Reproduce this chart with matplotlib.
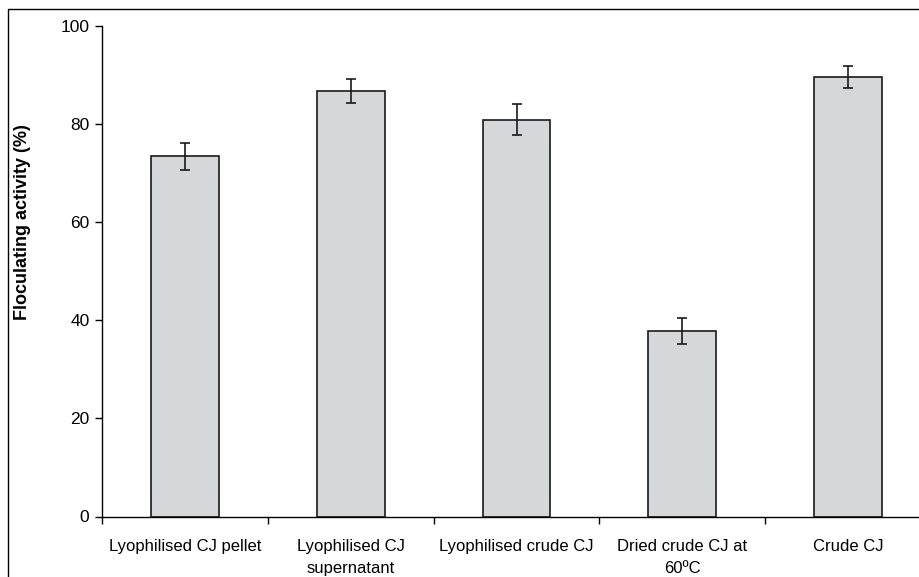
import matplotlib.pyplot as plt
from matplotlib.patches import Rectangle

plt.rcParams['font.family'] = ['Liberation Sans', 'DejaVu Sans']

# sample treatments and their flocculating activity
labels = ['Lyophilised CJ pellet', 'Lyophilised CJ\nsupernatant', 'Lyophilised crude CJ',
          'Dried crude CJ at\n60ºC', 'Crude CJ']
activity = [73.4, 86.7, 80.9, 37.8, 89.6]
err = [2.7, 2.4, 3.2, 2.6, 2.3]

fig = plt.figure(figsize=(9.2, 5.77), dpi=100)

# outer chart frame (runs off the right and bottom edges)
fig.patches.append(Rectangle((8 / 920, -0.05), 1.1, 1 - 9 / 577 + 0.05,
                             transform=fig.transFigure, fill=False,
                             edgecolor='black', linewidth=1.0))

ax = fig.add_axes([102 / 920, 1 - 516.5 / 577, 829 / 920, 490.5 / 577])
x = range(len(labels))
ax.bar(x, activity, width=0.41, color='#d6d7d9', edgecolor='#1a1a1a', linewidth=1.2,
       yerr=err, capsize=3.6, error_kw=dict(ecolor='#1a1a1a', elinewidth=1.2, capthick=1.2))

ax.set_xlim(-0.5, len(labels) - 0.5)
ax.set_ylim(0, 100)
ax.set_yticks([0, 20, 40, 60, 80, 100])
ax.set_xticks(list(x))
ax.set_xticklabels(labels, fontsize=12, linespacing=1.6)
ax.set_xticks([i - 0.5 for i in range(len(labels) + 1)], minor=True)
ax.tick_params(axis='x', which='major', length=0, pad=16)
ax.tick_params(axis='x', which='minor', length=5, direction='out', width=1)
ax.tick_params(axis='y', length=5, width=1, labelsize=12.5, pad=4)

ax.spines['top'].set_visible(False)
ax.spines['right'].set_visible(False)
ax.spines['left'].set_linewidth(1)
ax.spines['bottom'].set_linewidth(1)

ax.set_ylabel('Floculating activity (%)', fontsize=13, fontweight='bold')
ax.yaxis.set_label_coords(-0.086, 0.6)

fig.savefig('out.png', dpi=100)
